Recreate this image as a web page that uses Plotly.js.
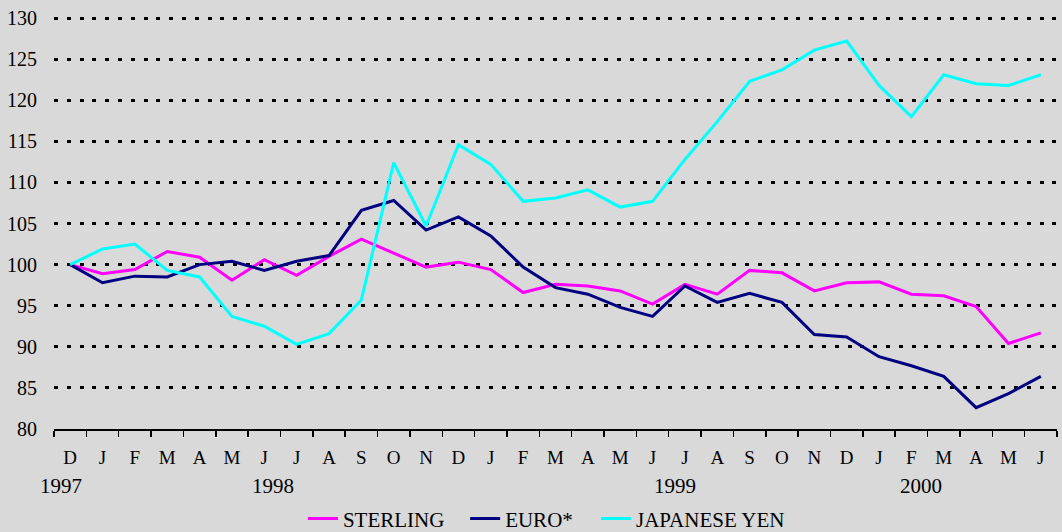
<!DOCTYPE html>
<html>
<head>
<meta charset="utf-8">
<script src="https://cdn.plot.ly/plotly-3.0.1.min.js"></script>
<style>
  html, body { margin: 0; padding: 0; background: #d9d9d9; }
  #chart { width: 1062px; height: 532px; }
</style>
</head>
<body>
<div id="chart"></div>
<script>
// Month keys (Dec 1997 .. Jun 2000)
const categories = [
  "1997-12","1998-01","1998-02","1998-03","1998-04","1998-05","1998-06","1998-07",
  "1998-08","1998-09","1998-10","1998-11","1998-12","1999-01","1999-02","1999-03",
  "1999-04","1999-05","1999-06","1999-07","1999-08","1999-09","1999-10","1999-11",
  "1999-12","2000-01","2000-02","2000-03","2000-04","2000-05","2000-06"
];
const monthLabels = ["D","J","F","M","A","M","J","J","A","S","O","N","D","J","F","M",
  "A","M","J","J","A","S","O","N","D","J","F","M","A","M","J"];
const yearLabels = ["1997","1998","1999","2000"];
const yearPositions = [-0.28, 6.27, 18.7, 26.3];

const sterling = [100, 98.9, 99.4, 101.6, 100.9, 98.1, 100.6, 98.7, 101.0, 103.1, 101.4, 99.7,
  100.3, 99.4, 96.6, 97.6, 97.4, 96.8, 95.2, 97.6, 96.4, 99.3, 99.0, 96.8, 97.8, 97.9, 96.4,
  96.2, 94.9, 90.4, 91.7];
const euro = [100, 97.8, 98.6, 98.5, 100.0, 100.4, 99.3, 100.4, 101.1, 106.6, 107.8, 104.2,
  105.8, 103.5, 99.7, 97.2, 96.4, 94.8, 93.7, 97.4, 95.4, 96.5, 95.4, 91.5, 91.2, 88.8, 87.7,
  86.4, 82.6, 84.3, 86.4];
const yen = [100, 101.9, 102.5, 99.3, 98.5, 93.7, 92.5, 90.3, 91.6, 95.7, 112.4, 104.7,
  114.6, 112.2, 107.7, 108.1, 109.1, 107.0, 107.7, 112.8, 117.4, 122.3, 123.7, 126.1, 127.2,
  121.8, 118.0, 123.1, 122.0, 121.8, 123.1];

const yTicks = [80, 85, 90, 95, 100, 105, 110, 115, 120, 125, 130];

const FONT = "Liberation Serif";

function series(name, vals, color, legendId) {
  return {
    type: "scatter", mode: "lines", name: name,
    x: categories, y: vals,
    line: { color: color, width: 3 },
    legend: legendId,
    hoverinfo: "skip"
  };
}

const data = [
  series("STERLING", sterling, "#ff00ff", "legend"),
  series("EURO*", euro, "#000080", "legend2"),
  series("JAPANESE YEN", yen, "#00ffff", "legend3")
];

// plot area: top 16 (value 130.25), bottom 429 (value 80)
const annotations = yearLabels.map((t, i) => ({
  text: t, x: yearPositions[i], xref: "x", y: -0.137, yref: "paper",
  xanchor: "center", yanchor: "middle", showarrow: false,
  font: { family: FONT, size: 21, color: "#000" }
}));

function legendAt(xPaper) {
  return {
    orientation: "h", x: xPaper, xanchor: "left", y: -0.2178, yanchor: "middle",
    font: { family: FONT, size: 21, color: "#000" },
    bgcolor: "rgba(0,0,0,0)", itemwidth: 30
  };
}

const layout = {
  width: 1062, height: 532,
  paper_bgcolor: "#d9d9d9", plot_bgcolor: "#d9d9d9",
  margin: { l: 54, r: 5, t: 16, b: 103, autoexpand: false },
  font: { family: FONT, size: 19, color: "#000" },
  showlegend: true,
  legend: legendAt(0.2482),
  legend2: legendAt(0.4099),
  legend3: legendAt(0.5404),
  xaxis: {
    type: "category",
    categoryorder: "array", categoryarray: categories,
    range: [-0.5, 30.5],
    tickvals: categories, ticktext: monthLabels,
    tickson: "boundaries",
    ticks: "outside", ticklen: 6, tickwidth: 1.5, tickcolor: "#000",
    ticklabelstandoff: 10,
    showline: true, linecolor: "#000", linewidth: 2,
    showgrid: false, zeroline: false,
    tickfont: { family: FONT, size: 19, color: "#000" },
    fixedrange: true
  },
  yaxis: {
    range: [80, 130.25],
    tickvals: yTicks,
    ticks: "", showline: false, zeroline: false,
    showgrid: true, gridcolor: "#000", gridwidth: 3, griddash: "4px,8.8px",
    ticklabelstandoff: 16,
    tickfont: { family: FONT, size: 20, color: "#000" },
    fixedrange: true
  },
  annotations: annotations
};

Plotly.newPlot("chart", data, layout, { displayModeBar: false, staticPlot: true });
</script>
</body>
</html>
